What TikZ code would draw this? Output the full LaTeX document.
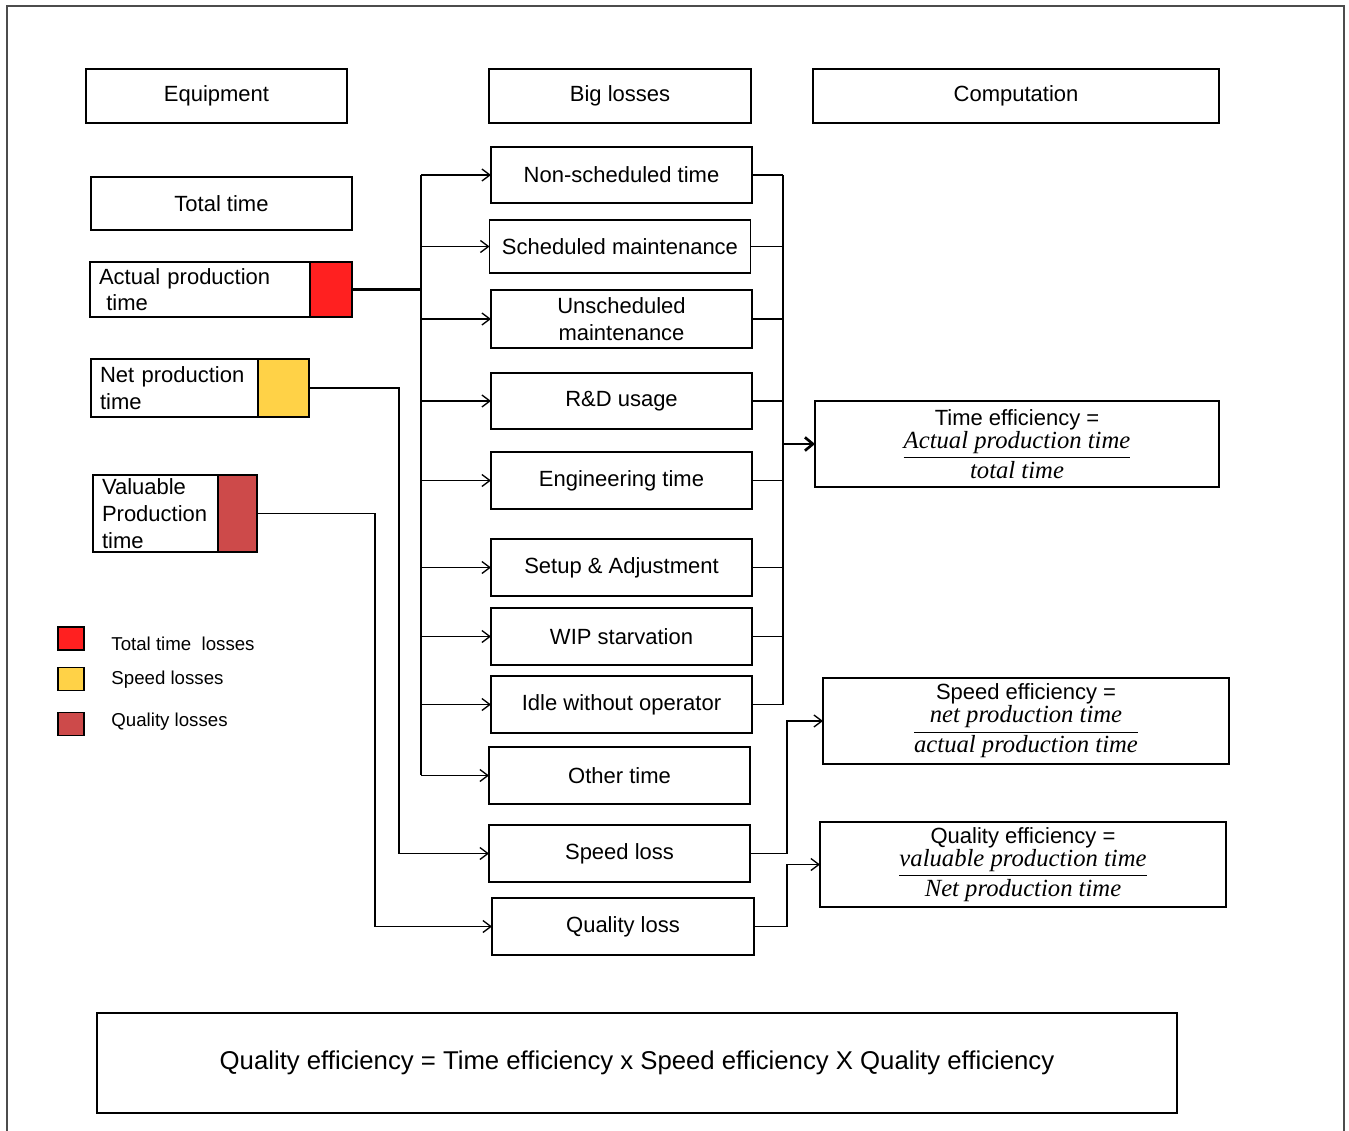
\RequirePackage{fix-cm}
\documentclass[tikz,border=0pt]{standalone}
\usepackage{amsmath}
\usepackage{fontspec}
\setmainfont{Liberation Sans}
\newfontfamily\formfont{Liberation Serif}
\usetikzlibrary{positioning,arrows.meta}
\newlength\px
\setlength\px{0.75pt}
\newcommand{\ratio}[2]{$\dfrac{\text{\fontsize{18.5}{20}\selectfont\formfont\itshape #1}}{\text{\fontsize{18.5}{20}\selectfont\formfont\itshape #2}}$}
\definecolor{lossred}{HTML}{FF2020}
\definecolor{lossyellow}{HTML}{FFD247}
\definecolor{lossdark}{HTML}{CD4A4A}
\tikzset{
  every node/.style={font=\fontsize{16.5}{20}\selectfont, outer sep=0pt},
  headbox/.style={draw, line width=1pt, minimum height=54\px},
  losbox/.style={draw, line width=1pt, minimum width=261\px, minimum height=57\px, align=center, inner sep=0pt},
  eqbox/.style 2 args={draw, line width=1pt, align=left, inner xsep=9\px, inner ysep=0pt, text width=#1, minimum height=#2},
  swatch/.style={draw, line width=1pt, fill=#1},
  effbox/.style={draw, line width=1pt, minimum width=405\px, minimum height=86\px, align=center, inner sep=0pt},
  wire/.style={line width=1pt},
  link/.style={line width=1pt, -{Straight Barb[length=6pt, width=9pt, line width=1pt]}},
  trunk/.style={line width=2.2pt},
  biglink/.style={line width=2.2pt, -{Straight Barb[length=6pt, width=10pt, line width=2pt]}}
}
\begin{document}
\begin{tikzpicture}[x=0.75pt, y=-0.75pt]
  \useasboundingbox (0,0) rectangle (1349,1131);
  \draw[black!70, line width=1.5pt] (7,1140) |- (1344,6) -- (1344,1140);
  % column heads
  \node[headbox, minimum width=261\px] (equip) at (216.5,96) {Equipment};
  \node[headbox, minimum width=262\px] (big) at (620,96) {Big losses};
  \node[headbox, minimum width=406\px] (comp) at (1016,96) {Computation};
  % equipment times
  \node[headbox, minimum width=261\px, minimum height=53\px] (total) at (221.5,203.5) {Total time};
  \node[eqbox={202\px}{55\px}] (act) at (200,289.5) {Actual production\\ \ time};
  \node[swatch=lossred, minimum width=42\px, minimum height=55\px, anchor=west] (actsq) at (act.east) {};
  \node[eqbox={149\px}{58\px}] (net) at (174.5,388) {Net production\\time};
  \node[swatch=lossyellow, minimum width=51\px, minimum height=58\px, anchor=west] (netsq) at (net.east) {};
  \node[eqbox={107\px}{77\px}] (val) at (155.5,513.5) {Valuable\\Production\\time};
  \node[swatch=lossdark, minimum width=39\px, minimum height=77\px, anchor=west] (valsq) at (val.east) {};
  % legend
  \node[swatch=lossred, minimum width=26\px, minimum height=23\px] (leg1) at (71,638.5) {};
  \node[swatch=lossyellow, minimum width=26\px, minimum height=23\px] (leg2) at (71,679) {};
  \node[swatch=lossdark, minimum width=26\px, minimum height=23\px] (leg3) at (71,724) {};
  \node[anchor=west, font=\fontsize{14}{16}\selectfont] (legt1) at (107,644) {Total time~~losses};
  \node[anchor=west, font=\fontsize{14}{16}\selectfont] (legt2) at (107,680) {Speed losses};
  \node[anchor=west, font=\fontsize{14}{16}\selectfont] (legt3) at (107,722) {Quality losses};
  % big losses
  \node[losbox, minimum height=56\px] (ns) at (621.5,175) {Non-scheduled time};
  \node[losbox, minimum height=53\px] (sm) at (620,246.5) {Scheduled maintenance};
  \node[losbox, minimum height=58\px] (um) at (621.5,319) {Unscheduled\\maintenance};
  \node[losbox, minimum height=56\px] (rd) at (621.5,401) {R\&D usage};
  \node[losbox] (eng) at (621.5,480.5) {Engineering time};
  \node[losbox] (setup) at (621.5,567.5) {Setup \& Adjustment};
  \node[losbox] (wip) at (621.5,636.5) {WIP starvation};
  \node[losbox] (idle) at (621.5,704.5) {Idle without operator};
  \node[losbox] (other) at (619.5,775.5) {Other time};
  \node[losbox] (spd) at (619.5,853.5) {Speed loss};
  \node[losbox, minimum width=262\px] (qlt) at (623,926.5) {Quality loss};
  % computation
  \node[effbox, minimum width=404\px] (teff) at (1017,444) {Time efficiency =\\ \ratio{Actual production time}{total time}};
  \node[effbox, minimum width=406\px] (seff) at (1026,721) {Speed efficiency =\\ \ratio{net production time}{actual production time}};
  \node[effbox, minimum width=406\px, minimum height=85\px] (qeff) at (1023,864.5) {Quality efficiency =\\ \ratio{valuable production time}{Net production time}};
  \node[draw, line width=1pt, minimum width=1080\px, minimum height=100\px, font=\fontsize{19.3}{22}\selectfont] (oee) at (637,1063) {Quality efficiency = Time efficiency x Speed efficiency X Quality efficiency};
  % left trunk
  \coordinate (ltop) at (421,175);
  \coordinate (lbot) at (421,775);
  \draw[wire] (ltop) -- (lbot);
  \draw[trunk] (actsq.east) -| (lbot);
  \foreach \n in {ns,sm,um,rd,eng,setup,wip,idle,other}
    \draw[link] (ltop |- \n.west) -- (\n.west);
  % right trunk
  \coordinate (rtop) at (783,175);
  \foreach \n in {ns,sm,um,rd,eng,setup,wip,idle}
    \draw[wire] (\n.east) -- (rtop |- \n.east);
  \draw[wire] (rtop |- ns.east) -- (rtop |- idle.east);
  \draw[biglink] (rtop |- teff.west) -- (teff.west);
  % speed and quality paths
  \coordinate (nbend) at (399,0);
  \coordinate (vbend) at (375,0);
  \coordinate (sbend) at (787,0);
  \draw[link] (netsq.east) -| (nbend |- spd.west) -- (spd.west);
  \draw[link] (valsq.east) -| (vbend |- qlt.west) -- (qlt.west);
  \draw[link] (spd.east) -- (sbend |- spd.east) |- (seff.west);
  \draw[link] (qlt.east) -- (sbend |- qlt.east) |- (qeff.west);
\end{tikzpicture}
\end{document}
